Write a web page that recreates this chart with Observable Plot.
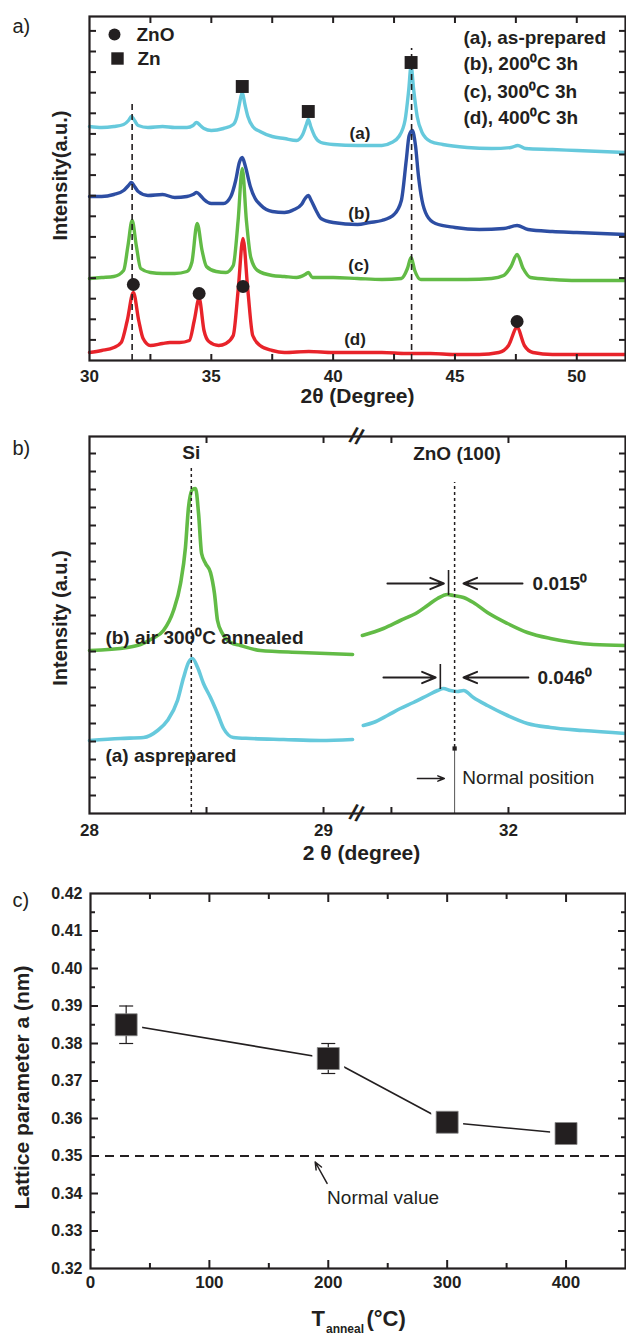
<!DOCTYPE html>
<html><head><meta charset="utf-8">
<script src="https://cdn.jsdelivr.net/npm/d3@7"></script>
<script src="https://cdn.jsdelivr.net/npm/@observablehq/plot@0.6"></script>
<style>
html,body{margin:0;padding:0;background:#fff;}
#fig{position:relative;width:626px;height:1334px;overflow:hidden;background:#fff;}
#fig svg{position:absolute;left:0;}
</style></head><body><div id="fig"></div>
<script>
const INK = "#231f20";
const FONT = "'Liberation Sans', Arial, Helvetica, sans-serif";
const CYAN = "#66c9dc", BLUE = "#2d4ea3", GREEN = "#62bb46", RED = "#e8232a";

// ---------- Panel a : XRD patterns (2theta in degree, intensity a.u.) ----------
const a_x = [30.0,30.5,31.0,31.4,31.6,31.72,31.85,32.0,32.4,33.0,33.5,34.0,34.25,34.39,34.55,34.7,35.0,35.5,35.9,36.05,36.15,36.27,36.38,36.5,36.7,37.0,37.5,38.0,38.5,38.75,38.9,38.98,39.08,39.25,39.5,40.0,41.0,42.0,42.4,42.7,42.95,43.1,43.2,43.3,43.45,43.65,44.0,44.5,45.5,46.5,47.3,47.58,47.9,49.0,50.0,51.0,52.0];
const a_y = [234,233,234,236,240,244,240,235,233,234,233,233,235,238,235,232,230,232,236,244,256,268,256,244,234,229,224,222,220,226,236,241,234,224,218,216,215,215,218,224,240,270,295,272,244,228,219,216,213,212,213,215,212,211,210,209,208];
const b_x = [30.0,30.5,31.0,31.4,31.6,31.72,31.85,32.0,32.4,33.0,33.5,34.0,34.25,34.4,34.55,34.7,35.0,35.5,35.8,36.0,36.15,36.27,36.4,36.6,36.8,37.0,37.5,38.0,38.4,38.7,38.85,38.98,39.1,39.3,39.5,40.0,41.0,41.5,42.0,42.5,42.8,43.0,43.12,43.25,43.38,43.5,43.65,43.85,44.2,45.0,46.0,47.0,47.55,48.0,49.0,50.0,51.0,52.0];
const b_y = [164,164,166,170,175,178,174,169,165,166,163,164,166,168,165,161,157,157,164,180,198,203,194,174,162,156,149,148,151,156,162,165,160,150,142,138,136,138,140,146,160,200,225,230,215,185,160,145,137,133,131,132,135,131,129,128,127,126];
const c_x = [30.0,30.5,31.0,31.4,31.58,31.75,31.92,32.1,32.5,33.0,33.5,34.0,34.2,34.42,34.62,34.8,35.2,35.6,35.9,36.1,36.27,36.44,36.62,36.9,37.5,38.0,38.5,38.85,38.98,39.15,40.0,41.0,42.0,42.8,43.05,43.2,43.35,43.6,44.5,45.5,46.5,47.0,47.3,47.55,47.8,48.1,49.0,50.0,52.0];
const c_y = [82,83,84,90,115,140,115,92,88,87,87,89,98,137,110,94,89,88,95,140,192,140,103,90,85,84,83,86,88,83,83,82,81,82,92,103,90,81,81,81,82,85,94,106,92,83,81,80,80];
const d_x = [30.0,30.5,31.0,31.3,31.55,31.8,32.02,32.2,32.5,33.0,33.3,33.7,34.1,34.3,34.5,34.7,34.9,35.3,35.6,35.9,36.1,36.3,36.5,36.7,37.0,37.5,38.0,39.0,40.0,41.0,42.0,43.0,44.0,45.0,46.0,46.8,47.2,47.55,47.85,48.2,49.0,50.0,52.0];
const d_y = [8,10,13,18,40,68,40,22,15,17,18,18,20,40,62,30,19,15,17,25,70,122,70,25,15,10,8,9,8,8,8,7,7,6,6,8,15,33,15,8,6,6,6];
const znoPeaks_x = [31.8, 34.5, 36.3, 47.55];
const znoPeaks_y = [76, 67, 74, 39];
const znPeaks_x = [36.27, 38.98, 43.2];
const znPeaks_y = [274, 249, 298];
const refLines_x = [31.75, 43.22];
const refLines_top = [260, 312];
const curveLabels = ["(a)", "(b)", "(c)", "(d)"];
const curveLabels_x = [41.1, 41.07, 41.05, 40.9];
const curveLabels_y = [227, 147, 95, 21];
const legendA = ["(a), as-prepared", "(b), 200\u2070C 3h", "(c), 300\u2070C 3h", "(d), 400\u2070C 3h"];
const xLabelsA = [30, 35, 40, 45, 50];
const xTicksA = [32.5, 35, 37.5, 40, 42.5, 45, 47.5, 50];
const yTicksA = d3.range(20.6, 344, 20.6);

// ---------- Panel b : Si and ZnO(100) peaks ----------
const gL_x = [28.0,28.162,28.218,28.269,28.316,28.359,28.389,28.41,28.423,28.44,28.453,28.466,28.479,28.496,28.517,28.534,28.547,28.568,28.603,28.645,28.73,28.90,29.124];
const gL_y = [163,166,169,175,183,203,230,266,306,324,325,300,260,250,241,220,193,180,171,168,163,161,159];
const cL_x = [28.0,28.132,28.231,28.291,28.333,28.376,28.402,28.423,28.44,28.462,28.487,28.517,28.547,28.573,28.615,28.688,28.829,28.987,29.124];
const cL_y = [73,75,76,83,93,113,136,151,155,146,130,116,100,85,76,75,74,73,74];
const gR_x = [31.376,31.466,31.538,31.611,31.654,31.697,31.739,31.765,31.808,31.85,31.91,31.996,32.081,32.179,32.278,32.363,32.5];
const gR_y = [178,185,193,201,208,215,219,218,216,211,201,190,181,175,171,169,168];
const cR_x = [31.38,31.423,31.483,31.538,31.594,31.654,31.697,31.722,31.752,31.782,31.808,31.85,31.91,31.996,32.081,32.179,32.32,32.5];
const cR_y = [88,91,98,105,111,118,123,125,123,122,123,116,108,98,90,86,83,80];
const siPos = 28.435, znoNormal = 31.77;
const shifts = ["0.015\u2070", "0.046\u2070"];
const shiftPeak_x = [31.744, 31.709];
const shiftLevel_y = [230, 136];
const xLabelsB = [28, 29, 32];
const xTicksB = [28.5, 29, 31.5, 32];
const yTicksB = d3.range(18, 377, 18);

// ---------- Panel c : lattice parameter ----------
const T_anneal = [30, 200, 300, 400];
const latticeA = [0.385, 0.376, 0.359, 0.356];
const latticeErr = [0.005, 0.004, 0.001, 0.0005];
const normalValue = 0.35;
const yLabelsC = [0.32,0.33,0.34,0.35,0.36,0.37,0.38,0.39,0.40,0.41,0.42];
const yMinorC = [0.325,0.335,0.345,0.355,0.365,0.375,0.385,0.395,0.405,0.415];
const xLabelsC = [0, 100, 200, 300, 400];
const xMinorC = [50, 150, 250, 350];

// ---------- helpers ----------
const mk = (xs, ys) => xs.map((x, i) => ({x, y: ys[i]}));
const note = (s, o) => Plot.text([s], {text: d => d, fill: INK, lineAnchor: "middle", ...o});
function inward(axis, anchor, ticks, size, sw = 2) {
  const f = axis === "x" ? Plot.axisX : Plot.axisY;
  return f({anchor, ticks, tickSize: -size, tickFormat: () => "", label: null, strokeWidth: sw, stroke: INK});
}
const baseStyle = {fontFamily: FONT, fontSize: "17px", fontWeight: "bold", color: INK, background: "transparent", overflow: "visible"};
const capSymbol = {draw(ctx, size) { const r = Math.sqrt(size / Math.PI); ctx.moveTo(-r, 0); ctx.lineTo(r, 0); }};
const fmtInt = d3.format("d");

const fig = document.getElementById("fig");

// ---------- Panel a ----------
const svgA = Plot.plot({
  width: 626, height: 420, marginLeft: 89, marginRight: 1, marginTop: 16, marginBottom: 60,
  x: {domain: [30, 52]}, y: {domain: [0, 344]},
  style: baseStyle,
  marks: [
    Plot.line(mk(a_x, a_y), {x: "x", y: "y", stroke: CYAN, strokeWidth: 3.4, curve: "monotone-x"}),
    Plot.line(mk(b_x, b_y), {x: "x", y: "y", stroke: BLUE, strokeWidth: 3.4, curve: "monotone-x"}),
    Plot.line(mk(c_x, c_y), {x: "x", y: "y", stroke: GREEN, strokeWidth: 3.4, curve: "monotone-x"}),
    Plot.line(mk(d_x, d_y), {x: "x", y: "y", stroke: RED, strokeWidth: 3.4, curve: "monotone-x"}),
    Plot.ruleX(mk(refLines_x, refLines_top), {x: "x", y1: 0, y2: "y", stroke: INK, strokeWidth: 1.6, strokeDasharray: "6,4"}),
    Plot.dot(mk(znoPeaks_x, znoPeaks_y), {x: "x", y: "y", r: 6.5, fill: INK}),
    Plot.dot(mk(znPeaks_x, znPeaks_y), {x: "x", y: "y", r: 7.3, symbol: "square", fill: INK}),
    Plot.text(curveLabels.map((t, i) => ({t, x: curveLabels_x[i], y: curveLabels_y[i]})), {x: "x", y: "y", text: "t", fontSize: 17, fill: INK}),
    Plot.frame({stroke: INK, strokeWidth: 2.2}),
    inward("x", "bottom", xTicksA, 6), inward("x", "top", xTicksA, 6),
    inward("y", "left", yTicksA, 7), inward("y", "right", yTicksA, 7),
    Plot.axisX({ticks: xLabelsA, tickSize: 0, tickPadding: 9, fontSize: 17, label: null, tickFormat: fmtInt}),
    Plot.dot([0], {frameAnchor: "top-left", dx: 25, dy: 18, r: 6, fill: INK}),
    Plot.dot([0], {frameAnchor: "top-left", dx: 28, dy: 42, r: 7, symbol: "square", fill: INK}),
    note("ZnO", {frameAnchor: "top-left", dx: 47, dy: 18, textAnchor: "start", fontSize: 19}),
    note("Zn", {frameAnchor: "top-left", dx: 48, dy: 42, textAnchor: "start", fontSize: 19}),
    note(legendA[0], {frameAnchor: "top-left", dx: 374, dy: 21, textAnchor: "start", fontSize: 19}),
    note(legendA[1], {frameAnchor: "top-left", dx: 374, dy: 47, textAnchor: "start", fontSize: 19}),
    note(legendA[2], {frameAnchor: "top-left", dx: 374, dy: 75, textAnchor: "start", fontSize: 19}),
    note(legendA[3], {frameAnchor: "top-left", dx: 374, dy: 101, textAnchor: "start", fontSize: 19}),
    note("a)", {frameAnchor: "top-left", dx: -77, dy: 10, textAnchor: "start", fontSize: 20, fontWeight: "normal"}),
    note("Intensity(a.u.)", {frameAnchor: "left", dx: -29, dy: -13, rotate: -90, textAnchor: "middle", fontSize: 20}),
    note("2\u03B8 (Degree)", {frameAnchor: "bottom", dx: 0, dy: 36, textAnchor: "middle", fontSize: 21})
  ]
});
svgA.style.top = "0px";
fig.appendChild(svgA);

// ---------- Panel b ----------
const svgB = Plot.plot({
  width: 626, height: 450, marginLeft: 89, marginRight: 1, marginTop: 16, marginBottom: 57,
  x: {type: "linear", domain: [28, 29.14, 31.35, 32.5], range: [89, 355.8, 355.8, 625]},
  y: {domain: [0, 377]},
  style: baseStyle,
  marks: [
    Plot.line(mk(gL_x, gL_y), {x: "x", y: "y", stroke: GREEN, strokeWidth: 3.6, curve: "monotone-x"}),
    Plot.line(mk(cL_x, cL_y), {x: "x", y: "y", stroke: CYAN, strokeWidth: 3.6, curve: "monotone-x"}),
    Plot.line(mk(gR_x, gR_y), {x: "x", y: "y", stroke: GREEN, strokeWidth: 3.6, curve: "monotone-x"}),
    Plot.line(mk(cR_x, cR_y), {x: "x", y: "y", stroke: CYAN, strokeWidth: 3.6, curve: "monotone-x"}),
    Plot.ruleX([siPos], {y1: 0, y2: 348, stroke: INK, strokeWidth: 1.5, strokeDasharray: "3,3"}),
    Plot.ruleX([znoNormal], {y1: 66, y2: 331, stroke: INK, strokeWidth: 1.5, strokeDasharray: "3,3"}),
    Plot.ruleX([znoNormal], {y1: 0, y2: 65, stroke: "#555", strokeWidth: 1}),
    Plot.dot([znoNormal], {x: d => d, y: 65, r: 2.4, symbol: "square", fill: INK}),
    Plot.ruleX(shiftPeak_x.map((x, i) => ({x, y: shiftLevel_y[i]})), {x: "x", y1: d => d.y - 12, y2: d => d.y + 13, stroke: INK, strokeWidth: 1.6}),
    Plot.arrow(shiftLevel_y.map((y, i) => ({y, x1: [31.483, 31.466][i], x2: shiftPeak_x[i] - 0.02})), {x1: "x1", x2: "x2", y1: "y", y2: "y", stroke: INK, strokeWidth: 2, headLength: 11, headAngle: 45}),
    Plot.arrow(shiftLevel_y.map((y, i) => ({y, x1: [32.06, 32.085][i], x2: 31.808})), {x1: "x1", x2: "x2", y1: "y", y2: "y", stroke: INK, strokeWidth: 2, headLength: 11, headAngle: 45}),
    Plot.text(shifts.map((t, i) => ({t, y: shiftLevel_y[i], x: [32.103, 32.124][i]})), {x: "x", y: "y", text: "t", textAnchor: "start", fontSize: 19, fill: INK}),
    Plot.arrow([{x1: 31.611, x2: 31.726, y: 35}], {x1: "x1", x2: "x2", y1: "y", y2: "y", stroke: INK, strokeWidth: 1.5, headLength: 7, headAngle: 45}),
    note("Normal position", {x: 31.803, y: 36, textAnchor: "start", fontSize: 19, fontWeight: "normal"}),
    note("Si", {x: siPos, y: 361, fontSize: 19}),
    note("ZnO (100)", {x: 31.78, y: 360, fontSize: 19}),
    note("(b) air 300\u2070C annealed", {x: 28.068, y: 176, textAnchor: "start", fontSize: 19}),
    note("(a) asprepared", {x: 28.068, y: 58, textAnchor: "start", fontSize: 19}),
    Plot.frame({stroke: INK, strokeWidth: 2.2}),
    inward("x", "bottom", xTicksB, 6), inward("x", "top", xTicksB, 6),
    inward("y", "left", yTicksB, 7), inward("y", "right", yTicksB, 7),
    Plot.axisX({ticks: xLabelsB, tickSize: 0, tickPadding: 10, fontSize: 17, label: null, tickFormat: fmtInt}),
    note("//", {x: 30.2, frameAnchor: "top", fontSize: 22, rotate: 18}),
    note("//", {x: 30.2, frameAnchor: "bottom", fontSize: 22, rotate: 18}),
    note("b)", {frameAnchor: "top-left", dx: -77, dy: 12, textAnchor: "start", fontSize: 20, fontWeight: "normal"}),
    note("Intensity (a.u.)", {frameAnchor: "left", dx: -29, dy: -7, rotate: -90, textAnchor: "middle", fontSize: 20}),
    note("2 \u03B8 (degree)", {frameAnchor: "bottom", dx: 4, dy: 40, textAnchor: "middle", fontSize: 21})
  ]
});
svgB.style.top = "420px";
fig.appendChild(svgB);

// ---------- Panel c ----------
const lat = T_anneal.map((T, i) => ({T, a: latticeA[i], e: latticeErr[i]}));
const svgC = Plot.plot({
  width: 626, height: 464, marginLeft: 90, marginRight: 1, marginTop: 23, marginBottom: 66,
  x: {domain: [0, 450]}, y: {domain: [0.32, 0.42]},
  style: baseStyle,
  marks: [
    Plot.ruleY([normalValue], {stroke: INK, strokeWidth: 2, strokeDasharray: "9,6"}),
    Plot.line(lat, {x: "T", y: "a", stroke: INK, strokeWidth: 1.6}),
    Plot.dot(lat, {x: "T", y: "a", r: 18, symbol: "square", fill: "white"}),
    Plot.ruleX(lat, {x: "T", y1: d => d.a - d.e, y2: d => d.a + d.e, stroke: INK, strokeWidth: 1.2}),
    Plot.dot(lat, {x: "T", y: d => d.a + d.e, r: 7, symbol: capSymbol, stroke: INK, strokeWidth: 1.2, fill: "none"}),
    Plot.dot(lat, {x: "T", y: d => d.a - d.e, r: 7, symbol: capSymbol, stroke: INK, strokeWidth: 1.2, fill: "none"}),
    Plot.dot(lat, {x: "T", y: "a", r: 12.4, symbol: "square", fill: INK, stroke: "#888", strokeWidth: 0.8}),
    Plot.arrow([{x1: 199, y1: 0.3427, x2: 189, y2: 0.3484}], {x1: "x1", y1: "y1", x2: "x2", y2: "y2", stroke: INK, strokeWidth: 1.5, headLength: 8, headAngle: 45}),
    note("Normal value", {x: 199, y: 0.3389, textAnchor: "start", fontSize: 19, fontWeight: "normal"}),
    Plot.frame({stroke: INK, strokeWidth: 2.2}),
    inward("x", "bottom", [100, 200, 300, 400], 8), inward("x", "top", [100, 200, 300, 400], 8),
    inward("x", "bottom", xMinorC, 5), inward("x", "top", xMinorC, 5),
    inward("y", "left", yLabelsC.slice(1, -1), 8), inward("y", "right", yLabelsC.slice(1, -1), 8),
    inward("y", "left", yMinorC, 5), inward("y", "right", yMinorC, 5),
    Plot.axisX({ticks: xLabelsC, tickSize: 0, tickPadding: 7, fontSize: 17, label: null, tickFormat: fmtInt}),
    Plot.axisY({ticks: yLabelsC, tickSize: 0, tickPadding: 8, fontSize: 16, label: null, tickFormat: d3.format(".2f")}),
    note("c)", {frameAnchor: "top-left", dx: -78, dy: 7, textAnchor: "start", fontSize: 20, fontWeight: "normal"}),
    note("Lattice parameter a (nm)", {frameAnchor: "left", dx: -68, dy: 6.5, rotate: -90, textAnchor: "middle", fontSize: 21}),
    note("T", {frameAnchor: "bottom", dx: -46.5, dy: 57, textAnchor: "start", lineAnchor: "bottom", fontSize: 22}),
    note("anneal", {frameAnchor: "bottom", dx: -32, dy: 64, textAnchor: "start", lineAnchor: "bottom", fontSize: 12}),
    note("(\u00B0C)", {frameAnchor: "bottom", dx: 8.5, dy: 57, textAnchor: "start", lineAnchor: "bottom", fontSize: 22})
  ]
});
svgC.style.top = "870px";
fig.appendChild(svgC);
</script></body></html>
